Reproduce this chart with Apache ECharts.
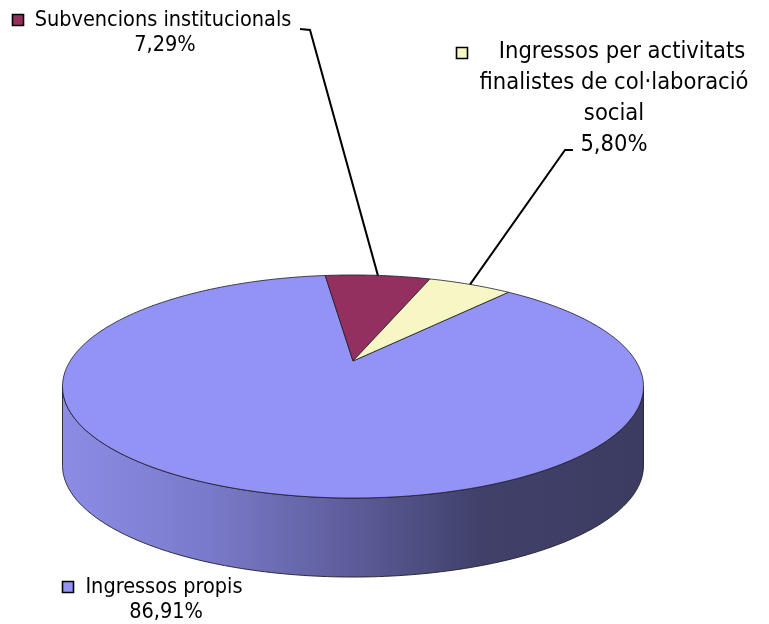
<!DOCTYPE html>
<html><head><meta charset="utf-8">
<script src="https://cdn.jsdelivr.net/npm/echarts@6/dist/echarts.min.js"></script>
<style>html,body{margin:0;padding:0;background:#fff}#c{width:769px;height:624px}</style>
</head><body><div id="c"></div>
<script>
// ---- data ----
const categories = ['Ingressos propis', 'Subvencions institucionals', 'Ingressos per activitats finalistes de col·laboració social'];
const values = [86.91, 7.29, 5.80];
const percentLabels = ['86,91%', '7,29%', '5,80%'];
const labelLines = [
  ['Ingressos propis'],
  ['Subvencions institucionals'],
  ['Ingressos per activitats', 'finalistes de col·laboració', 'social']
];
const colors = ['#9393f5', '#933060', '#f7f7c6'];

// ---- layout ----
const geo = { cx: 353, cy: 361, sx: 282.8, sy: 105.7, persp: 0.2287, depth: 79, startAngle: 40.2 };
const FONT = '"DejaVu Sans Condensed", "DejaVu Sans", sans-serif';
const labelLayout = [
  { cx: 166, y: 587, lh: 25, size: 21.5, dx0: -2, key: [62, 581], leader: null },
  { cx: 165, y: 20, lh: 25, size: 21.5, dx0: -2, key: [12, 14], leader: [[300, 29], [310, 30]] },
  { cx: 614, y: 52, lh: 31, size: 23.5, dx0: 8, key: [456, 47], leader: [[573, 150], [565, 150]] }
];

const total = values.reduce((a, b) => a + b, 0);
const slices = [];
let acc = geo.startAngle;
values.forEach(v => { const span = v / total * 360; slices.push([acc, acc + span]); acc += span; });

function proj(deg, drop) {
  const t = deg * Math.PI / 180;
  const u = Math.sin(t), v = Math.cos(t);
  const w = 1 + geo.persp * v;
  return [geo.cx + geo.sx * u / w, geo.cy - geo.sy * v / w + (drop || 0)];
}
function arc(a0, a1, drop) {
  const n = Math.max(2, Math.ceil(Math.abs(a1 - a0) / 1.0));
  const pts = [];
  for (let k = 0; k <= n; k++) pts.push(proj(a0 + (a1 - a0) * k / n, drop));
  return pts;
}
const thR = Math.acos(-geo.persp) * 180 / Math.PI;
const thL = 360 - thR;
const leftX = proj(thL)[0], rightX = proj(thR)[0];
const sideFill = new echarts.graphic.LinearGradient(leftX, 0, rightX, 0, [
  { offset: 0, color: '#8c8ce6' },
  { offset: 0.25, color: '#7a7acb' },
  { offset: 0.5, color: '#5c5c9a' },
  { offset: 0.72, color: '#40406a' },
  { offset: 1, color: '#3c3c62' }
], true);
const edge = 'rgba(30,30,40,0.9)';

const seriesData = values.map((v, i) => ({ name: categories[i], value: [i, v] }));

const option = {
  animation: false,
  series: [
    {
      type: 'custom', coordinateSystem: 'none', z: 1, silent: true,
      data: seriesData,
      renderItem: function (params, api) {
        const i = api.value(0);
        const [s, e] = slices[i];
        const children = [];
        [0, 360].forEach(off => {
          const a0 = Math.max(s, thR + off), a1 = Math.min(e, thL + off);
          if (a1 > a0) {
            const pts = arc(a0, a1, 0).concat(arc(a1, a0, geo.depth));
            children.push({ type: 'polygon', shape: { points: pts },
              style: { fill: sideFill, stroke: edge, lineWidth: 1 } });
          }
        });
        return { type: 'group', children };
      }
    },
    {
      type: 'custom', coordinateSystem: 'none', z: 2, silent: true,
      data: seriesData,
      renderItem: function (params, api) {
        const i = api.value(0);
        const [s, e] = slices[i];
        const apex = [geo.cx, geo.cy];
        return { type: 'polygon', shape: { points: [apex].concat(arc(s, e, 0)) },
          style: { fill: colors[i], stroke: edge, lineWidth: 0.9 } };
      }
    },
    {
      type: 'custom', coordinateSystem: 'none', z: 3, silent: true,
      data: seriesData,
      renderItem: function (params, api) {
        const i = api.value(0);
        const L = labelLayout[i];
        const lines = labelLines[i].concat([percentLabels[i]]);
        const children = lines.map((t, k) => ({
          type: 'text',
          style: { text: t, x: L.cx + (k === 0 ? L.dx0 : 0), y: L.y + k * L.lh, align: 'center', verticalAlign: 'middle',
            font: L.size + 'px ' + FONT, fill: '#000' }
        }));
        children.push({ type: 'rect', shape: { x: L.key[0] + 0.5, y: L.key[1] + 0.5, width: 11, height: 11 },
          style: { fill: colors[i], stroke: '#000', lineWidth: 1.6 } });
        if (L.leader) {
          const [s, e] = slices[i];
          const rim = proj((s + e) / 2, 0);
          children.push({ type: 'polyline', shape: { points: L.leader.concat([rim]) },
            style: { stroke: '#000', lineWidth: 2, fill: null } });
        }
        return { type: 'group', children };
      }
    }
  ]
};
const chart = echarts.init(document.getElementById('c'));
chart.setOption(option);
</script>
</body></html>
